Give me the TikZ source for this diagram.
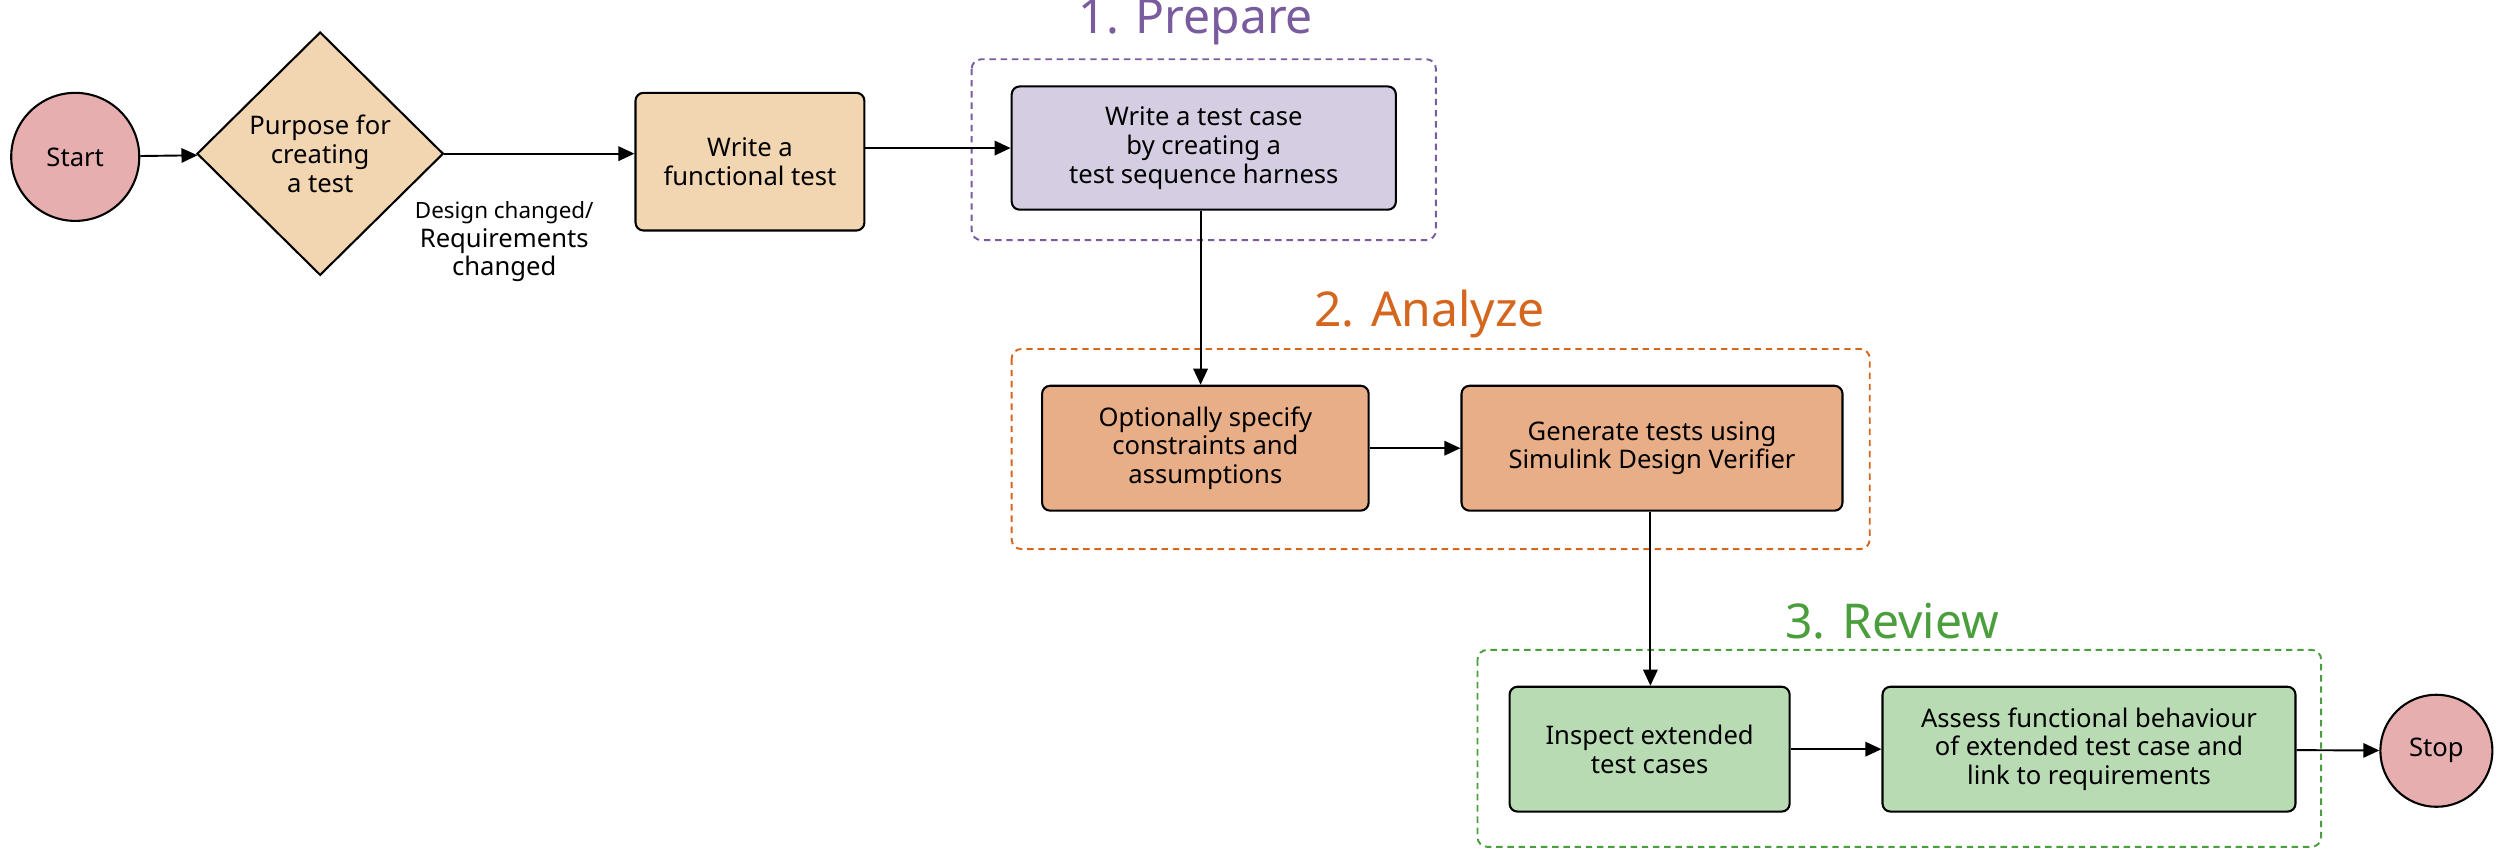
\documentclass[tikz,border=0pt]{standalone}
\usepackage{fontspec}
\setmainfont{Noto Sans}
\usetikzlibrary{shapes.geometric,arrows.meta}
\definecolor{startc}{HTML}{E6AEAE}
\definecolor{tan}{HTML}{F2D5B1}
\definecolor{lav}{HTML}{D5CDE1}
\definecolor{org}{HTML}{E8AE88}
\definecolor{grn}{HTML}{B8DBB3}
\definecolor{purp}{HTML}{7A5C9E}
\definecolor{orgd}{HTML}{D4661E}
\definecolor{grnd}{HTML}{4A9E3C}
\begin{document}
\begin{tikzpicture}[x=1pt,y=-1pt,
  every node/.style={font=\fontsize{16}{18}\selectfont, align=center},
  box/.style={draw=black, line width=1.3pt, rounded corners=5pt, inner sep=0pt},
  circ/.style={circle, draw=black, line width=1.3pt, fill=startc, inner sep=0pt},
  arr/.style={-{Triangle[length=10pt,width=9pt]}, line width=1.2pt},
  grp/.style={dashed, line width=1.2pt, rounded corners=6pt, dash pattern=on 4pt off 3pt},
  ttl/.style={font=\fontsize{30}{32}\selectfont}]
\useasboundingbox (0,0) rectangle (1568,532);
\node[circ, minimum size=80pt] (start) at (47,98) {Start};
\node[diamond, draw=black, line width=1.3pt, fill=tan, minimum width=154pt, minimum height=152pt, inner sep=0pt] (pur) at (200,96) {Purpose for\\creating\\a test};
\node[box, fill=tan, minimum width=143pt, minimum height=86pt] (wf) at (468.5,101) {Write a\\functional test};
\node (lbl) at (315,151) {\fontsize{14}{20}\selectfont Design changed/\\Requirements\\changed};
\draw[grp, draw=purp] (607,37) rectangle (897,150);
\node[ttl, text=purp] (t1) at (747,14) {1. Prepare};
\node[box, fill=lav, minimum width=240pt, minimum height=77pt] (tc) at (752,92.5) {Write a test case\\by creating a\\test sequence harness};
\draw[grp, draw=orgd] (632,218) rectangle (1168,343);
\node[ttl, text=orgd] (t2) at (893,196) {2. Analyze};
\node[box, fill=org, minimum width=204pt, minimum height=78pt] (oc) at (753,280) {Optionally specify\\constraints and\\assumptions};
\node[box, fill=org, minimum width=238pt, minimum height=78pt] (gt) at (1032,280) {Generate tests using\\Simulink Design Verifier};
\draw[grp, draw=grnd] (923,406) rectangle (1450,529);
\node[ttl, text=grnd] (t3) at (1182,388) {3. Review};
\node[box, fill=grn, minimum width=175pt, minimum height=78pt] (ie) at (1030.5,468) {Inspect extended\\test cases};
\node[box, fill=grn, minimum width=258pt, minimum height=78pt] (as) at (1305,468) {Assess functional behaviour\\of extended test case and\\link to requirements};
\node[circ, minimum size=70pt] (stop) at (1522,469) {Stop};
\draw[arr] (start) -- (pur);
\draw[arr] (pur.east) -- (wf.west|-pur.east);
\draw[arr] (wf.east|-tc.west) -- (tc.west);
\draw[arr] (tc.south-|750,0) -- (oc.north-|750,0);
\draw[arr] (oc) -- (gt);
\draw[arr] (gt.south-|1031,0) -- (ie.north-|1031,0);
\draw[arr] (ie) -- (as);
\draw[arr] (as) -- (stop);
\end{tikzpicture}
\end{document}
